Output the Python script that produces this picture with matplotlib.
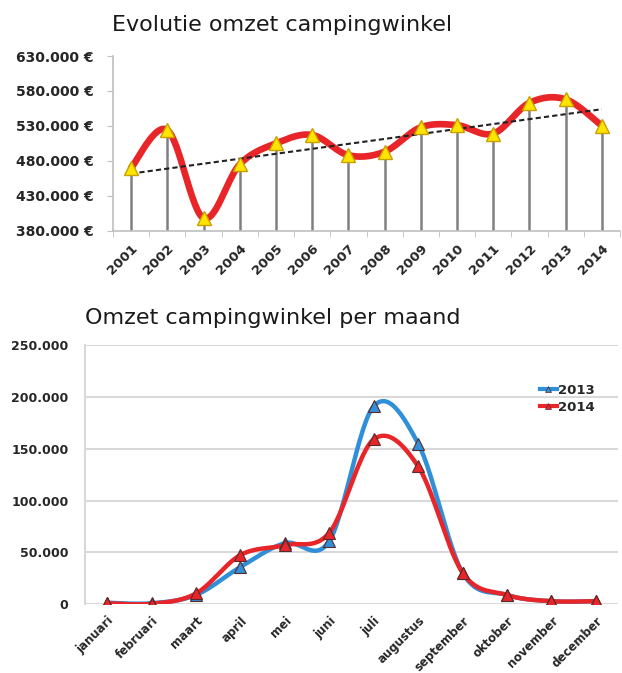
import numpy as np
import matplotlib
matplotlib.use("Agg")
import matplotlib.pyplot as plt
from matplotlib.ticker import FuncFormatter
from matplotlib.lines import Line2D

# ---------------- data ----------------
years = ["2001", "2002", "2003", "2004", "2005", "2006", "2007",
         "2008", "2009", "2010", "2011", "2012", "2013", "2014"]
revenue_year = [470000, 524000, 398000, 475000, 505000, 517000, 488000,
                493000, 528000, 531000, 519000, 563000, 568000, 530000]

months = ["januari", "februari", "maart", "april", "mei", "juni", "juli",
          "augustus", "september", "oktober", "november", "december"]
rev_2013 = [1500, 1000, 9000, 36000, 59000, 61000, 191000, 155000, 30500, 9000, 3000, 3000]
rev_2014 = [1000, 500, 10500, 47500, 57000, 69000, 159000, 133000, 30500, 9000, 3000, 3000]

yticks_top = [380000, 430000, 480000, 530000, 580000, 630000]
yticks_bottom = [0, 50000, 100000, 150000, 200000, 250000]


def smooth(x, y, n=30):
    """Catmull-Rom style smoothing (as in Excel 'smoothed line')."""
    x = np.asarray(x, float)
    y = np.asarray(y, float)
    P = np.column_stack([x, y])
    P = np.vstack([P[0], P, P[-1]])
    out = []
    t = np.linspace(0, 1, n)
    for i in range(1, len(P) - 2):
        p0, p1, p2, p3 = P[i - 1], P[i], P[i + 1], P[i + 2]
        c1 = p1 + (p2 - p0) / 6.0
        c2 = p2 - (p3 - p1) / 6.0
        seg = ((1 - t) ** 3)[:, None] * p1 + (3 * (1 - t) ** 2 * t)[:, None] * c1 \
            + (3 * (1 - t) * t ** 2)[:, None] * c2 + (t ** 3)[:, None] * p2
        out.append(seg if i == 1 else seg[1:])
    S = np.vstack(out)
    return S[:, 0], S[:, 1]


def dotfmt(v, pos=None, suffix=""):
    s = f"{int(round(v)):,}".replace(",", ".")
    return s + suffix

plt.rcParams['font.family'] = ['DejaVu Sans']

fig = plt.figure(figsize=(6.22, 6.73), dpi=100)

# ---------------- top chart ----------------
ax1 = fig.add_axes([113 / 622, 1 - 230.7 / 673, (620 - 113) / 622, (230.7 - 56) / 673])
xi = np.arange(len(years))
yv = np.array(revenue_year, float)

ax1.set_xlim(-0.5, len(years) - 0.5)
ax1.set_ylim(yticks_top[0], yticks_top[-1])

ax1.vlines(xi, yticks_top[0], yv, colors="#808080", linewidth=1.8, zorder=2)

coef = np.polyfit(xi, yv, 1)
ax1.plot(xi, np.polyval(coef, xi), color="#222222", linestyle=(0, (2.5, 1.5)),
         linewidth=1.5, zorder=4)

sx, sy = smooth(xi, yv)
ax1.plot(sx, sy, color="#e8262a", linewidth=4.8, solid_capstyle="round", zorder=3)
ax1.plot(xi, yv, linestyle="none", marker="^", markersize=10,
         markerfacecolor="#ffe400", markeredgecolor="#c8a000", markeredgewidth=1.0, zorder=5)

for s in ["top", "right"]:
    ax1.spines[s].set_visible(False)
ax1.spines["left"].set_color("#bfbfbf")
ax1.spines["bottom"].set_color("#bfbfbf")
ax1.spines["left"].set_linewidth(1.2)
ax1.spines["bottom"].set_linewidth(1.2)

ax1.set_yticks(yticks_top)
ax1.yaxis.set_major_formatter(FuncFormatter(lambda v, p: dotfmt(v, p, " €")))
ax1.tick_params(axis="y", length=4, color="#bfbfbf", labelsize=10, pad=10)
for lab in ax1.get_yticklabels():
    lab.set_fontweight("bold")
    lab.set_color("#262626")

ax1.set_xticks(xi)
ax1.set_xticklabels(years, rotation=45, ha="right", rotation_mode="anchor",
                    fontsize=9.5, fontweight="bold", color="#262626")
ax1.set_xticks(np.arange(-0.5, len(years), 1), minor=True)
ax1.tick_params(axis="x", which="major", length=0, pad=8)
ax1.tick_params(axis="x", which="minor", length=4, color="#bfbfbf")

fig.text(112 / 622, 1 - 25 / 673, "Evolutie omzet campingwinkel", fontsize=16,
         color="#1a1a1a", va="center", ha="left")

# ---------------- bottom chart ----------------
ax2 = fig.add_axes([85 / 622, 1 - 604.3 / 673, (618 - 85) / 622, (604.3 - 345) / 673])
mi = np.arange(len(months))
ax2.set_xlim(-0.5, len(months) - 0.5)
ax2.set_ylim(yticks_bottom[0], yticks_bottom[-1])
ax2.set_yticks(yticks_bottom)
ax2.grid(axis="y", color="#d9d9d9", linewidth=1.5, zorder=0)
ax2.set_axisbelow(True)

for data, col in [(rev_2013, "#2f8fd8"), (rev_2014, "#e8262a")]:
    bx, by = smooth(mi, data)
    ax2.plot(bx, by, color=col, linewidth=3.2, zorder=3)
    ax2.plot(mi, data, linestyle="none", marker="^", markersize=8,
             markerfacecolor=col, markeredgecolor="#5a2a2a", markeredgewidth=0.8, zorder=4)

handles = [Line2D([0], [0], color="#2f8fd8", linewidth=3, marker="^", markersize=5,
                  markerfacecolor="#2f8fd8", markeredgecolor="#5a2a2a", markeredgewidth=0.5),
           Line2D([0], [0], color="#e8262a", linewidth=3, marker="^", markersize=5,
                  markerfacecolor="#e8262a", markeredgecolor="#5a2a2a", markeredgewidth=0.5)]
leg = ax2.legend(handles, ["2013", "2014"], loc="upper left",
                 bbox_to_anchor=((533 - 85) / (618 - 85), 1 - (377 - 345) / (604.3 - 345)),
                 frameon=False, handlelength=1.3, handletextpad=0.1, labelspacing=0.3,
                 prop={"weight": "bold", "size": 9.5}, borderpad=0)
for t in leg.get_texts():
    t.set_color("#262626")

for s in ["top", "right", "bottom"]:
    ax2.spines[s].set_visible(False)
ax2.spines["left"].set_color("#d9d9d9")
ax2.spines["left"].set_linewidth(1.5)

ax2.yaxis.set_major_formatter(FuncFormatter(lambda v, p: dotfmt(v, p)))
ax2.tick_params(axis="y", length=0, labelsize=9, pad=12)
for lab in ax2.get_yticklabels():
    lab.set_fontweight("bold")
    lab.set_color("#262626")

ax2.set_xticks(mi)
ax2.set_xticklabels(months, rotation=45, ha="right", rotation_mode="anchor",
                    fontsize=8.5, fontweight="bold", color="#262626")
ax2.tick_params(axis="x", length=0, pad=7)

fig.text(85 / 622, 1 - 318 / 673, "Omzet campingwinkel per maand", fontsize=16,
         color="#1a1a1a", va="center", ha="left")

fig.savefig("out.png", dpi=100)
